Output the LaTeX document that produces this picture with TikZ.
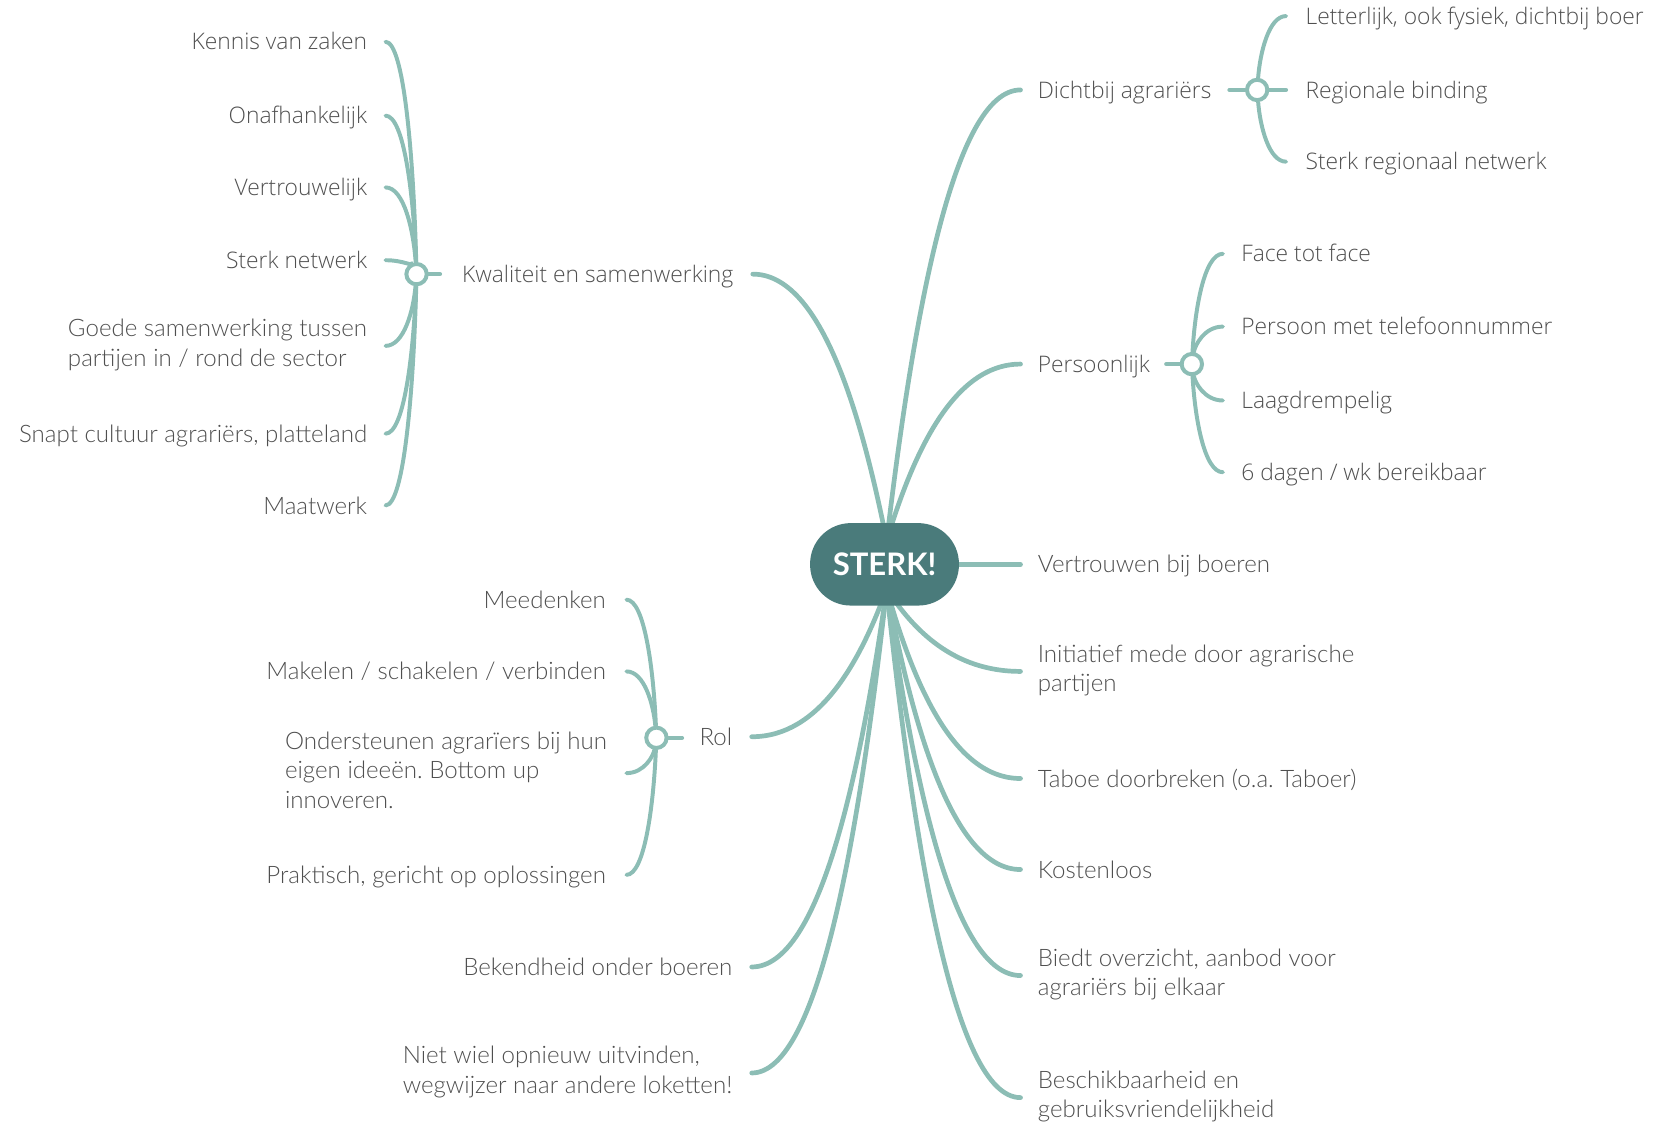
\documentclass[tikz,border=0pt]{standalone}
\usepackage{fontspec}
\setmainfont{Lato}
\IfFontExistsTF{Open Sans Light}{\newfontfamily\segf{Open Sans Light}}{\newfontfamily\segf{Open Sans}}
\newfontfamily\rootf{Lato}
\IfFontExistsTF{Lato Light}{\newfontfamily\avf{Lato Light}}{\newfontfamily\avf{Lato}}
\usetikzlibrary{calc}
\definecolor{lc}{HTML}{8CBDB5}
\definecolor{nc}{HTML}{4A7B7B}
\definecolor{tc}{HTML}{4F4F4F}
\definecolor{tcs}{HTML}{505050}
\newcommand\segtop{\rule{0pt}{21pt}}
\newcommand\segbot{\rule[-5.8pt]{0pt}{5.8pt}}
\newcommand\avtop{\rule{0pt}{22pt}}
\newcommand\avbot{\rule[-6pt]{0pt}{6pt}}
\pgfdeclarelayer{bg}
\pgfsetlayers{bg,main}
\frenchspacing
\begin{document}
\begin{tikzpicture}[x=1pt,y=-1pt,
  mainline/.style={draw=lc,line width=4.4pt,line cap=round},
  subline/.style={draw=lc,line width=3.7pt,line cap=round},
  curv/.style n args={3}{to path={let \p1=(\tikztostart),\p2=(\tikztotarget) in .. controls ({\x1+#1*(\x2-\x1)},{\y1+#2*(\y2-\y1)}) and ({\x2-#3*(\x2-\x1)},\y2) .. (\tikztotarget)}},
  mcurve/.style={curv={0.2}{0.5}{0.5}},
  scurve/.style={curv={0.1}{0.5}{0.6}},
  hub/.style={circle,draw=lc,line width=3.7pt,fill=white,minimum size=19pt,inner sep=0pt},
  root/.style={fill=nc,rounded corners=38pt,minimum width=139pt,minimum height=77pt,inner sep=0pt,text=white,font=\rootf\bfseries\fontsize{29}{30}\selectfont},
  segt/.style={font=\segf\fontsize{21.3}{27.5}\selectfont,text=tcs,inner sep=0pt,align=left,execute at begin node=\segtop,execute at end node=\segbot},
  avt/.style={font=\avf\fontsize{22.5}{27.5}\selectfont,text=tc,inner sep=0pt,align=left,execute at begin node=\avtop,execute at end node=\avbot},
]
\useasboundingbox (0,0) rectangle (1567,1049);

% central node
\node[root] (c) at (826,527) {STERK!};
\coordinate (up) at (828,505);
\coordinate (dn) at (828,550);

% hubs
\node[hub] (hk) at (389,256) {};
\node[hub] (hd) at (1174,84) {};
\node[hub] (hp) at (1113,340) {};
\node[hub] (hr) at (613,689) {};

% ---- left top: Kwaliteit en samenwerking
\node[segt,anchor=east] (kw) at (685,256) {Kwaliteit en samenwerking};
\node[segt,anchor=east] (kz) at (343,39) {Kennis van zaken};
\node[segt,anchor=east] (oh) at (343,108) {Onafhankelijk};
\node[segt,anchor=east] (vw) at (343,175) {Vertrouwelijk};
\node[segt,anchor=east] (sn) at (343,243) {Sterk netwerk};
\node[avt,anchor=east] (gs) at (343,323) {Goede samenwerking tussen\\partijen in / rond de sector};
\node[avt,anchor=east] (sc) at (343,405) {Snapt cultuur agrariërs, platteland};
\node[avt,anchor=east] (mw) at (343,472) {Maatwerk};

% ---- left: Rol
\node[avt,anchor=east] (rl) at (684,688) {Rol};
\node[avt,anchor=east] (md) at (566,560) {Meedenken};
\node[avt,anchor=east] (mk) at (566,627) {Makelen / schakelen / verbinden};
\node[avt,anchor=east] (on) at (567,722) {Ondersteunen agrarïers bij hun\\eigen ideeën. Bottom up\\innoveren.};
\node[avt,anchor=east] (pr) at (566,817) {Praktisch, gericht op oplossingen};

% ---- left bottom
\node[avt,anchor=east] (bk) at (684,903) {Bekendheid onder boeren};
\node[avt,anchor=east] (nw) at (684,1002) {Niet wiel opnieuw uitvinden,\\wegwijzer naar andere loketten!};

% ---- right: Dichtbij
\node[segt,anchor=west] (da) at (969,84) {Dichtbij agrariërs};
\node[segt,anchor=west] (lf) at (1219,15) {Letterlijk, ook fysiek, dichtbij boer};
\node[segt,anchor=west] (rb) at (1219,84) {Regionale binding};
\node[segt,anchor=west] (sr) at (1219,151) {Sterk regionaal netwerk};

% ---- right: Persoonlijk
\node[segt,anchor=west] (ps) at (969,340) {Persoonlijk};
\node[segt,anchor=west] (ff) at (1159,237) {Face tot face};
\node[segt,anchor=west] (pt) at (1159,305) {Persoon met telefoonnummer};
\node[segt,anchor=west] (ld) at (1159,374) {Laagdrempelig};
\node[segt,anchor=west] (dg) at (1159,441) {6 dagen / wk bereikbaar};

% ---- right others
\node[avt,anchor=west] (vb) at (969,527) {Vertrouwen bij boeren};
\node[avt,anchor=west] (im) at (969,627) {Initiatief mede door agrarische\\partijen};
\node[avt,anchor=west] (tb) at (969,727) {Taboe doorbreken (o.a. Taboer)};
\node[avt,anchor=west] (kl) at (969,812) {Kostenloos};
\node[avt,anchor=west] (bo) at (969,911) {Biedt overzicht, aanbod voor\\agrariërs bij elkaar};
\node[avt,anchor=west] (bg) at (969,1025) {Beschikbaarheid en\\gebruiksvriendelijkheid};

% connector ends
\coordinate (kw-e) at (703,256);
\coordinate (rl-e) at (702,688);
\coordinate (bk-e) at (702,903);
\coordinate (nw-e) at (702,1002);
\foreach \nm/\yy in {da/84,ps/340,vb/527,im/627,tb/727,kl/812,bo/911,bg/1025}{
  \coordinate (\nm-e) at (953,\yy);
}
\foreach \nm/\yy in {kz/39,oh/108,vw/175,sn/243,gs/323,sc/405,mw/472}{
  \coordinate (\nm-e) at (360,\yy);
}
\foreach \nm/\yy in {md/560,mk/627,on/722,pr/817}{
  \coordinate (\nm-e) at (585,\yy);
}
\foreach \nm/\yy in {lf/15,rb/84,sr/151}{
  \coordinate (\nm-e) at (1201,\yy);
}
\foreach \nm/\yy in {ff/237,pt/305,ld/374,dg/441}{
  \coordinate (\nm-e) at (1142,\yy);
}
\coordinate (hk-s) at (411,256);
\coordinate (hd-s) at (1148,84);
\coordinate (hp-s) at (1089,340);
\coordinate (hr-s) at (637,689);

\begin{pgfonlayer}{bg}
  % main branches
  \draw[mainline] (up) to[mcurve] (kw-e);
  \draw[mainline] (up) to[mcurve] (da-e);
  \draw[mainline] (up) to[mcurve] (ps-e);
  \draw[mainline] (c) -- (vb-e);
  \foreach \nm in {im,tb,kl,bo,bg,rl,bk,nw}{
    \draw[mainline] (dn) to[mcurve] (\nm-e);
  }
  % stubs
  \draw[subline] (hk) -- (hk-s);
  \draw[subline] (hd-s) -- (hd);
  \draw[subline] (hp-s) -- (hp);
  \draw[subline] (hr) -- (hr-s);
  % sub-branches
  \foreach \nm in {kz,oh,vw,sn,gs,sc,mw}{
    \draw[subline] (hk) to[scurve] (\nm-e);
  }
  \foreach \nm in {md,mk,on,pr}{
    \draw[subline] (hr) to[scurve] (\nm-e);
  }
  \foreach \nm in {lf,rb,sr}{
    \draw[subline] (hd) to[scurve] (\nm-e);
  }
  \foreach \nm in {ff,pt,ld,dg}{
    \draw[subline] (hp) to[scurve] (\nm-e);
  }
\end{pgfonlayer}
\end{tikzpicture}
\end{document}
